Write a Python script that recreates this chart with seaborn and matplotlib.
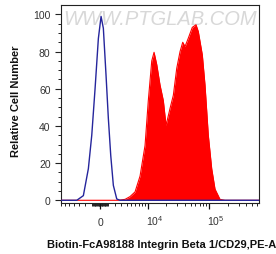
import numpy as np
import pandas as pd
import matplotlib
matplotlib.use("Agg")
import matplotlib.pyplot as plt
import matplotlib.transforms as mtransforms
import seaborn as sns
from matplotlib.ticker import FixedLocator, NullFormatter, FixedFormatter

# ---- data ----
blue_x = [-7000, -3387, -2294, -1556, -1087, -648, -219, 129, 426, 780, 1087,
          1416, 1785, 2294, 2822, 640000]
blue_y = [0, 0, 2.5, 17, 35, 60, 87, 98.9, 92.5, 67, 44, 24, 8, 0.7, 0, 0]

red_x = [-7000, 2497, 3711, 4721, 5892, 7273, 8904, 10130, 11590, 12670, 14050,
         15920, 18050, 19990, 23230, 26300, 29870, 33800, 37370, 40700, 46010,
         53400, 61280, 66730, 77520, 85670, 96850, 109900, 124300, 149600,
         180100, 640000]
red_y = [0, 0, 0.5, 2, 4.5, 13, 29.5, 53.6, 75, 79.6, 73, 62, 53.6, 40.3, 49.4,
         56.5, 71, 80, 85, 82.7, 87.2, 93, 94.4, 90.8, 78.2, 62, 35, 17, 6, 0.5,
         0, 0]

ytick_vals = [0, 20, 40, 60, 80, 100]
ytick_labels = ["0", "20", "40", "60", "80", "100"]
xtick_vals = [0, 10000, 100000]
xtick_labels = ["0", "$10^4$", "$10^5$"]
xlabel = "Biotin-FcA98188 Integrin Beta 1/CD29,PE-A"
ylabel = "Relative Cell Number"
watermark = "WWW.PTGLAB.COM"

sns.set_style("ticks")
plt.rcParams["font.family"] = ["Liberation Sans", "DejaVu Sans"]
plt.rcParams["mathtext.fontset"] = "custom"
plt.rcParams["mathtext.rm"] = "Liberation Sans"
plt.rcParams["mathtext.it"] = "Liberation Sans:italic"
plt.rcParams["mathtext.default"] = "regular"

fig = plt.figure(figsize=(2.76, 2.55), dpi=100)
ax = fig.add_axes([61 / 276, 51 / 255, 198 / 276, 198.3 / 255])

C = 3470.0
ax.set_xscale("function", functions=(lambda v: np.arcsinh(np.asarray(v) / C),
                                     lambda v: C * np.sinh(np.asarray(v))))

blue_df = pd.DataFrame({"x": blue_x, "y": blue_y})
red_df = pd.DataFrame({"x": red_x, "y": red_y})

ax.text(0.5, 0.93, watermark, transform=ax.transAxes, ha="center", va="center",
        fontsize=14.5, style="italic", color="#d8d8d8", zorder=0)

ax.fill_between(red_df["x"], 0, red_df["y"], color="#ff0000", lw=0, zorder=2)
sns.lineplot(data=red_df, x="x", y="y", ax=ax, color="#ff0000", lw=0.8,
             sort=False, estimator=None, zorder=3)
sns.lineplot(data=blue_df, x="x", y="y", ax=ax, color="#25259c", lw=1.0,
             sort=False, estimator=None, zorder=4)

ax.set_xlim(-7000, 637000)
ax.set_ylim(-1.46, 105.2)

# y ticks
ax.yaxis.set_major_locator(FixedLocator(ytick_vals))
ax.yaxis.set_major_formatter(FixedFormatter(ytick_labels))
ax.yaxis.set_minor_locator(FixedLocator([v + 5 * k for v in ytick_vals[:-1] for k in (1, 2, 3)]))
ax.tick_params(axis="y", which="major", length=4.5, width=0.8, labelsize=7.5,
               labelcolor="#333333", pad=3.0, color="#222222")
ax.tick_params(axis="y", which="minor", length=2.5, width=0.7, color="#222222")

# x ticks
minor_x = []
for d in (100, 1000):
    for m in range(1, 10):
        minor_x += [m * d, -m * d]
for d in (10000, 100000):
    for m in range(2, 10):
        minor_x.append(m * d)
minor_x = [v for v in minor_x if -7000 <= v <= 637000]
ax.xaxis.set_major_locator(FixedLocator(xtick_vals))
ax.xaxis.set_major_formatter(NullFormatter())
ax.xaxis.set_minor_locator(FixedLocator(minor_x))
ax.xaxis.set_minor_formatter(NullFormatter())
ax.tick_params(axis="x", which="major", length=4.5, width=0.9, color="#111111")
ax.tick_params(axis="x", which="minor", length=2.5, width=0.7, color="#222222")

trans = mtransforms.blended_transform_factory(ax.transData, ax.transAxes)
for v, lab in zip(xtick_vals, xtick_labels):
    if v == 0:
        ax.text(v, -0.11, lab, transform=trans, ha="center", va="baseline",
                fontsize=7.5, color="#333333")
    else:
        off = mtransforms.ScaledTranslation(-2 / 100, 0, fig.dpi_scale_trans)
        ax.text(v, -0.11, lab, transform=trans + off, ha="left", va="baseline",
                fontsize=7.5, color="#333333")

for s in ax.spines.values():
    s.set_linewidth(0.8)
    s.set_color("#222222")

ax.set_xlabel("")
ax.set_ylabel("")
fig.text(162 / 276, 1 - 245 / 255, xlabel, ha="center", va="center",
         fontsize=8, fontweight="bold", color="#111111")
fig.text(16 / 276, 1 - 101 / 255, ylabel, ha="center", va="center",
         rotation=90, fontsize=8, fontweight="bold", color="#111111")

fig.savefig("out.png", dpi=100)
